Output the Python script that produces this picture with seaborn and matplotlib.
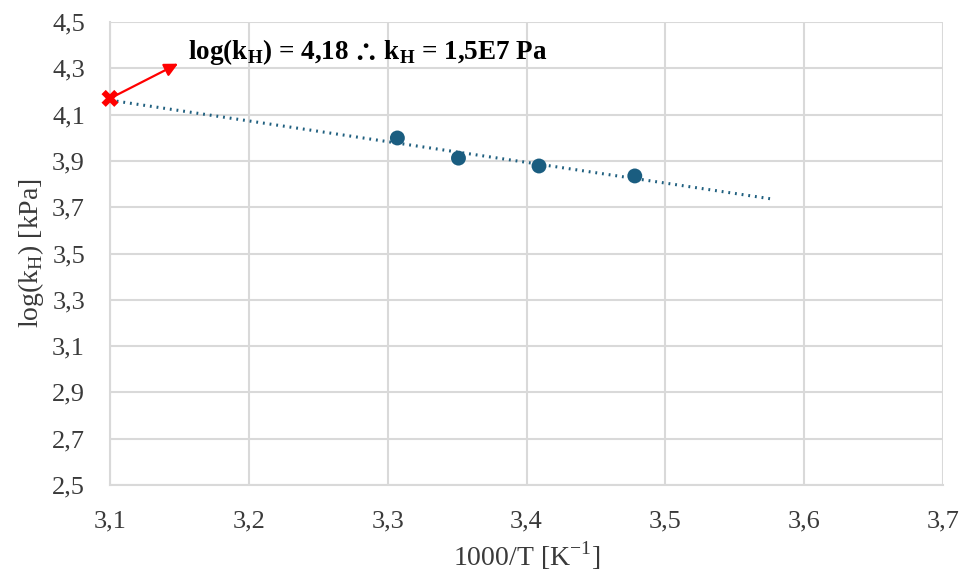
import numpy as np
import pandas as pd
import matplotlib
matplotlib.use("Agg")
import matplotlib.pyplot as plt
import seaborn as sns

# Data
inv_T = [3.307, 3.351, 3.409, 3.478]
log_kH = [3.999, 3.912, 3.878, 3.835]
extrap_x = [3.1]
extrap_y = [4.17]
trend_x_end = 3.578
x_ticks = [3.1, 3.2, 3.3, 3.4, 3.5, 3.6, 3.7]
y_ticks = [2.5, 2.7, 2.9, 3.1, 3.3, 3.5, 3.7, 3.9, 4.1, 4.3, 4.5]
annotation = r"log(k$_\mathbf{H}$) = 4,18 $\!\mathbf{\therefore}\!$ k$_\mathbf{H}$ = 1,5E7 Pa"

sns.set_theme(style="white")
plt.rcParams['font.family'] = ['Liberation Serif', 'DejaVu Serif']
plt.rcParams['mathtext.fontset'] = 'custom'
plt.rcParams['mathtext.rm'] = 'Liberation Serif'
plt.rcParams['mathtext.bf'] = 'Liberation Serif:bold'
plt.rcParams['mathtext.fallback'] = 'stix'

fig = plt.figure(figsize=(9.67, 5.77), dpi=100)
ax = fig.add_axes([110/967, 1-485/577, (943-110)/967, (485-22)/577])

df = pd.DataFrame({"x": inv_T, "y": log_kH})
coef = np.polyfit(inv_T, log_kH, 1)
tx = np.array([extrap_x[0], trend_x_end])
trend = pd.DataFrame({"x": tx, "y": np.polyval(coef, tx)})

grid_c = "#d9d9d9"
sns.lineplot(data=trend, x="x", y="y", ax=ax, color="#1f5f7f", lw=2.2,
             linestyle=(0, (0.6, 1.6)), zorder=3)
sns.scatterplot(data=df, x="x", y="y", ax=ax, color="#1a5d80", s=115,
                edgecolor="none", zorder=4)
ax.scatter(extrap_x, extrap_y, marker="X", s=150, color="#ff0000",
           edgecolor="none", zorder=5, clip_on=False)
ax.annotate("", xy=(3.149, 4.32), xytext=(extrap_x[0], extrap_y[0]),
            arrowprops=dict(arrowstyle="-|>", color="#ff0000", lw=1.6,
                            mutation_scale=20, shrinkA=0, shrinkB=0),
            zorder=5, annotation_clip=False)
ax.text(3.156, 4.37, annotation, fontsize=19.5, fontweight="bold",
        va="center", ha="left", color="black")

ax.set_xlim(3.1, 3.7)
ax.set_ylim(2.5, 4.5)
ax.set_xticks(x_ticks)
ax.set_xticklabels([f"{v:.1f}".replace(".", ",") for v in x_ticks], fontsize=19)
ax.set_yticks(y_ticks)
ax.set_yticklabels([f"{v:.1f}".replace(".", ",") for v in y_ticks], fontsize=19)
ax.grid(True, color=grid_c, lw=1.5)
ax.set_axisbelow(True)
for s in ["top", "right"]:
    ax.spines[s].set_visible(False)
for s in ["left", "bottom"]:
    ax.spines[s].set_color(grid_c)
    ax.spines[s].set_linewidth(1.5)
ax.tick_params(axis="x", length=0, pad=18, labelcolor="#3a3a3a")
ax.tick_params(axis="y", length=0, pad=18, labelcolor="#3a3a3a")
ax.set_xlabel(r"1000/T [K$^{\mathregular{-1}}$]", fontsize=20, color="#3a3a3a", labelpad=5)
ax.set_ylabel(r"log(k$_{\mathregular{H}}$) [kPa]", fontsize=20, color="#3a3a3a", labelpad=4)

fig.savefig("out.png", dpi=100)
